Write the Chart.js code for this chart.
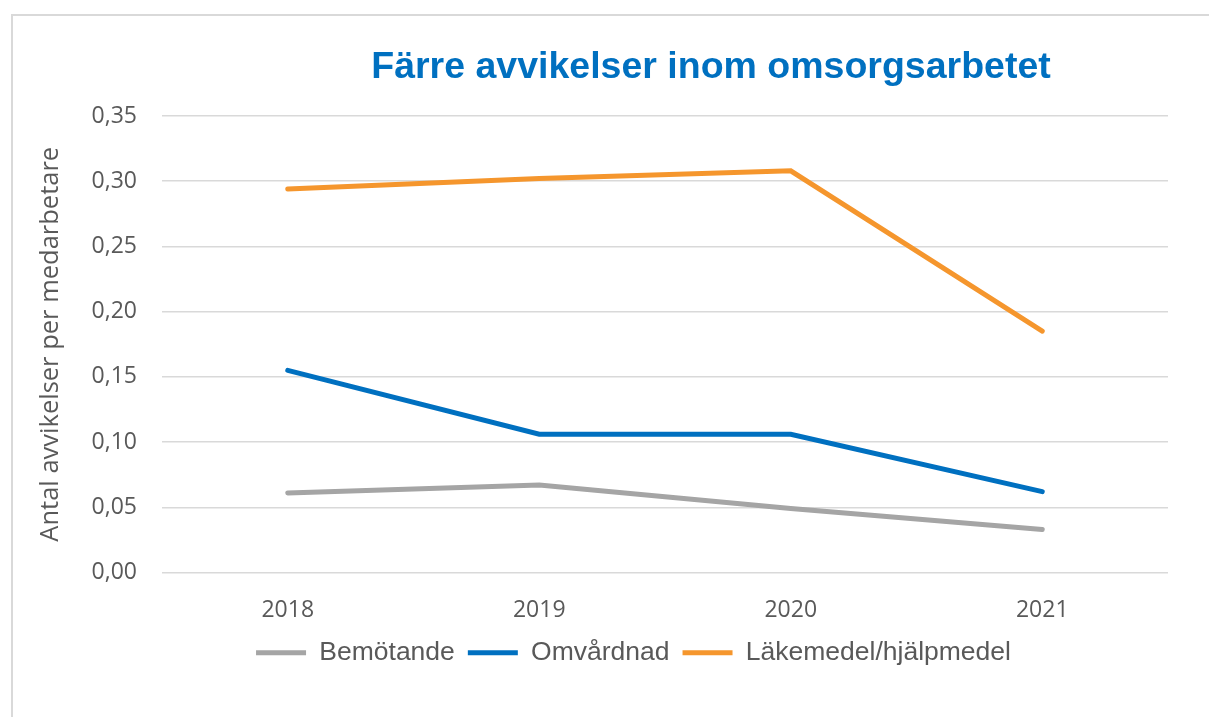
<!DOCTYPE html>
<html>
<head>
<meta charset="utf-8">
<script src="https://cdn.jsdelivr.net/npm/chart.js@4"></script>
<style>
  html, body { margin: 0; padding: 0; background: #fff; }
  #frame { position: absolute; left: 11px; top: 14px; width: 1300px; height: 800px; border: 2px solid #d9d9d9; }
  #wrap { position: absolute; left: 0; top: 0; width: 1209px; height: 717px; }
</style>
</head>
<body>
<div id="frame"></div>
<div id="wrap"><canvas id="c" width="1209" height="717"></canvas></div>
<script>
// data
const years = ['2018', '2019', '2020', '2021'];
const bemotande = [0.061, 0.067, 0.049, 0.033];
const omvardnad = [0.155, 0.106, 0.106, 0.062];
const lakemedel = [0.294, 0.302, 0.308, 0.185];
const seriesNames = ['Bemötande', 'Omvårdnad', 'Läkemedel/hjälpmedel'];
const chartTitle = 'Färre avvikelser inom omsorgsarbetet';
const yTitle = 'Antal avvikelser per medarbetare';

const tickFont = { family: "'Open Sans', sans-serif", size: 23 };
const grey = '#595959';

// title drawn a bit right of centre, like the original
const titlePlugin = {
  id: 'offsetTitle',
  afterLayout(chart) {
    // legend sits a little right of centre too
    chart.legend.left += 32;
    chart.legend.right += 32;
  },
  afterDraw(chart) {
    const ctx = chart.ctx;
    ctx.save();
    ctx.font = "bold 37.5px 'Liberation Sans', Arial, sans-serif";
    ctx.fillStyle = '#0070C0';
    ctx.textAlign = 'center';
    ctx.textBaseline = 'middle';
    ctx.fillText(chartTitle, 711, 68);
    ctx.restore();
  }
};

function line(label, data, color) {
  return {
    label: label,
    data: data,
    borderColor: color,
    backgroundColor: color,
    borderWidth: 5,
    borderCapStyle: 'round',
    pointRadius: 0,
    pointHoverRadius: 0,
    tension: 0
  };
}

new Chart(document.getElementById('c'), {
  type: 'line',
  data: {
    labels: years,
    datasets: [
      line(seriesNames[0], bemotande, '#A5A5A5'),
      line(seriesNames[1], omvardnad, '#0070C0'),
      line(seriesNames[2], lakemedel, '#F5962D')
    ]
  },
  options: {
    responsive: false,
    animation: false,
    layout: { padding: { top: 116, right: 41, left: 35, bottom: 41 } },
    scales: {
      x: {
        offset: true,
        grid: { display: false, drawTicks: false },
        border: { display: false },
        ticks: { font: tickFont, color: grey, padding: 24 },
        afterFit(s) { s.height = 54; }
      },
      y: {
        min: 0,
        max: 0.35,
        grid: { color: '#d9d9d9', lineWidth: 1.5, drawTicks: false },
        border: { display: false },
        ticks: {
          stepSize: 0.05,
          font: tickFont,
          color: grey,
          padding: 25,
          callback: v => v.toFixed(2).replace('.', ',')
        },
        title: { display: true, text: yTitle, font: { family: "'Open Sans', sans-serif", size: 25.5 }, color: grey, padding: 0 },
        afterFit(s) { s.width = 127; }
      }
    },
    plugins: {
      legend: {
        position: 'bottom',
        labels: {
          usePointStyle: true,
          pointStyle: 'line',
          pointStyleWidth: 50,
          padding: 13,
          color: grey,
          font: { family: "'Liberation Sans', Arial, sans-serif", size: 26.5 }
        }
      },
      tooltip: { enabled: false }
    }
  },
  plugins: [titlePlugin]
});
</script>
</body>
</html>
